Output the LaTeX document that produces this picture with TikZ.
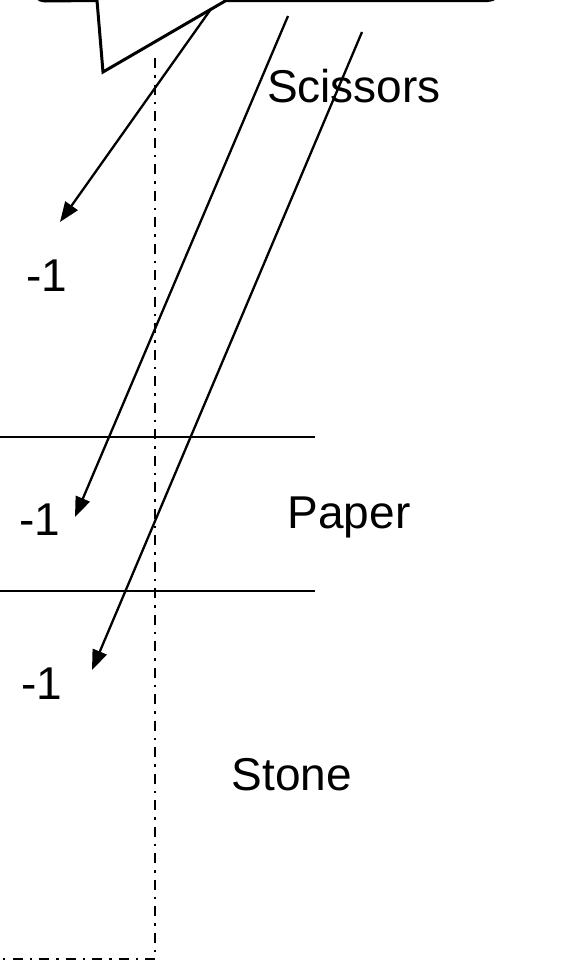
\documentclass[tikz,border=0pt]{standalone}
\usepackage{fontspec}
\setmainfont{Liberation Sans}
\usetikzlibrary{arrows.meta}
\begin{document}
\begin{tikzpicture}[x=1pt,y=-1pt,
  lbl/.style={font=\fontsize{46}{54}\selectfont, inner sep=0pt, anchor=center},
  conn/.style={line width=2.3pt, -{Triangle[length=20pt,width=15pt]}},
  sepline/.style={line width=2.5pt},
  dashdot/.style={line width=2.5pt, dash pattern=on 10pt off 7pt on 2.5pt off 7pt},
  callout/.style={line width=3pt, line join=miter}]
\useasboundingbox (0,0) rectangle (571,964);
\clip (0,0) rectangle (571,964);
% callout bubble (only its lower edge is visible)
\draw[callout] (33,-60) -- (33,-11) arc[start angle=180,end angle=270,radius=12pt]
  -- (97,0.5) -- (103,72) -- (226,0.5) -- (488,0.5)
  arc[start angle=270,end angle=360,radius=12pt] -- (500,-60);
% labels
\node[lbl] (sc) at (354,86) {Scissors};
\node[lbl] (m1) at (47,276) {-1};
\node[lbl] (m2) at (40,520) {-1};
\node[lbl] (pa) at (349,517) {Paper};
\node[lbl] (m3) at (42,684) {-1};
\node[lbl] (st) at (292,775) {Stone};
% separators
\coordinate (h1a) at (0,437); \coordinate (h1b) at (315,437);
\coordinate (h2a) at (0,591); \coordinate (h2b) at (315,591);
\draw[sepline] (h1a) -- (h1b);
\draw[sepline] (h2a) -- (h2b);
% dash-dot frame
\coordinate (vt) at (155,58); \coordinate (vb) at (155,959); \coordinate (hl) at (0,959);
\draw[dashdot] (vt) -- (vb) -- (hl);
% arrows
\coordinate (a1s) at (211,9);  \coordinate (a1e) at (60,222);
\coordinate (a2s) at (288,16); \coordinate (a2e) at (75,517);
\coordinate (a3s) at (362,32); \coordinate (a3e) at (92,670);
\draw[conn] (a1s) -- (a1e);
\draw[conn] (a2s) -- (a2e);
\draw[conn] (a3s) -- (a3e);
\end{tikzpicture}
\end{document}
